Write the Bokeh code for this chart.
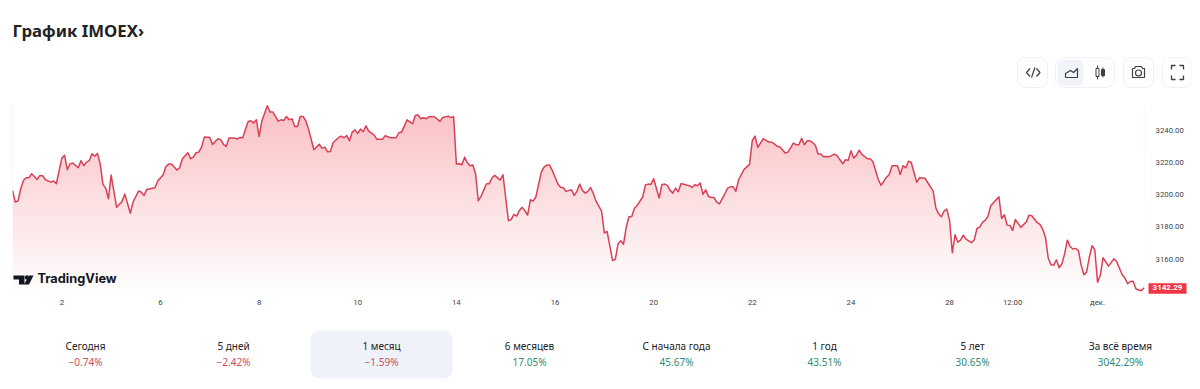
import numpy as np
from bokeh.plotting import figure
from bokeh.layouts import column
from bokeh.models import Range1d, LinearAxis, FixedTicker, Label
from bokeh.embed import file_html
from bokeh.resources import INLINE

TITLE = "График IMOEX›"
BRAND = "TradingView"
LAST_PRICE = 3142.29
PRICE_TICKS = [3160, 3180, 3200, 3220, 3240]
TIME_TICKS = [18, 54, 90, 126, 162, 198, 234, 270, 306, 342, 365, 396]
TIME_LABELS = ["2", "6", "8", "10", "14", "16", "20", "22", "24", "28", "12:00", "дек."]
PERIODS = ["Сегодня", "5 дней", "1 месяц", "6 месяцев", "С начала года", "1 год", "5 лет", "За всё время"]
CHANGES = ["−0.74%", "−2.42%", "−1.59%", "17.05%", "45.67%", "43.51%", "30.65%", "3042.29%"]
NEGATIVE = [True, True, True, False, False, False, False, False]

bars = [0,1,2,3,4,5,6,7,9,10,11,12,14,15,16,18,19,20,21,22,24,25,26,27,28,29,30,31,32,33,34,35,36,38,40,41,43,44,46,47,48,49,52,53,55,56,57,58,60,61,62,64,65,66,67,68,69,70,72,73,75,76,77,78,79,81,82,83,84,86,87,88,89,90,91,93,94,95,97,98,99,100,101,102,103,104,105,106,107,108,110,112,113,114,115,116,117,119,120,121,122,123,124,125,126,127,128,129,130,132,133,135,136,138,140,141,142,
        144,145,146,147,148,149,150,151,152,154,156,157,159,160,161,162,163,164,165,166,167,168,169,170,171,173,174,175,176,178,179,181,182,183,184,185,186,187,188,189,190,191,193,194,195,196,197,199,200,201,202,204,205,206,207,208,209,210,211,212,213,215,216,217,219,220,221,222,223,224,225,226,227,228,230,231,232,233,234,236,237,238,239,240,241,242,243,244,246,247,248,249,250,251,252,253,254,255,256,257,258,260,261,262,263,264,265,267,269,270,271,272,274,276,277,278,279,280,282,283,285,286,287,
        288,289,290,291,292,293,294,295,296,297,298,300,301,303,304,305,306,307,308,309,310,312,313,314,316,317,319,320,321,323,324,325,326,327,328,330,331,333,334,336,337,338,339,340,341,342,343,344,345,346,347,348,350,351,352,353,354,355,356,357,358,360,361,362,363,364,365,366,368,370,371,372,374,375,376,377,378,379,380,381,382,383,384,385,386,387,388,389,390,391,392,393,394,395,396,397,398,400,402,403,405,406,407,408,409,410,411,412,413]
closes = [3202.6,3195.4,3196.0,3203.6,3208.8,3210.4,3210.4,3212.9,3209.4,3211.9,3211.7,3209.2,3207.7,3208.4,3206.7,3222.6,3224.3,3215.4,3219.1,3219.5,3216.6,3221.0,3217.9,3220.1,3221.0,3225.3,3223.8,3225.5,3219.1,3206.3,3204.0,3197.4,3212.1,3192.1,3195.8,3200.3,3188.5,3195.4,3202.2,3201.5,3199.5,3203.2,3204.2,3208.4,3212.3,3217.4,3218.9,3218.9,3215.2,3216.6,3222.2,3225.9,3222.2,3223.2,3225.9,3226.3,3229.4,3235.6,3235.4,3231.1,3234.6,3234.0,3231.1,3229.8,3235.0,3235.0,3234.4,3235.4,3235.2,3245.3,3245.7,3244.3,3246.3,3236.0,3245.5,3255.0,3251.1,3251.1,3245.5,3246.3,3245.9,3248.4,3246.3,3247.0,3242.2,3242.2,3248.4,3248.4,3245.9,3240.8,3227.8,3231.1,3228.6,3229.4,3226.5,3226.7,3232.1,3235.4,3236.2,3235.2,3236.6,3233.3,3238.7,3240.1,3237.9,3240.6,3238.9,3242.6,3239.3,3236.8,3234.2,3234.2,3236.4,3235.2,3235.2,3238.3,3238.7,
          3246.3,3245.1,3243.9,3249.0,3249.4,3247.0,3247.6,3247.0,3248.2,3248.2,3245.3,3247.8,3248.6,3247.8,3248.2,3218.9,3219.1,3218.5,3223.2,3219.7,3217.9,3218.3,3212.9,3196.2,3198.9,3206.7,3206.7,3210.4,3211.9,3209.0,3212.3,3183.8,3184.6,3187.7,3186.7,3190.2,3192.1,3190.0,3187.3,3196.8,3196.0,3198.5,3213.9,3217.0,3218.3,3218.3,3215.0,3206.7,3204.6,3204.2,3202.0,3203.0,3199.5,3202.0,3206.5,3202.6,3200.9,3202.0,3204.4,3200.5,3195.8,3189.8,3176.2,3177.2,3159.2,3159.9,3169.5,3171.4,3169.3,3179.9,3186.3,3186.5,3191.6,3193.3,3198.5,3205.9,3206.5,3206.3,3209.8,3197.8,3206.1,3206.5,3205.7,3202.6,3200.9,3204.0,3201.8,3206.9,3205.9,3205.5,3204.4,3206.1,3205.5,3207.1,3200.1,3203.0,3198.9,3198.2,3198.2,3195.4,3194.3,3200.5,3204.0,3204.8,3204.8,3202.0,3209.2,3215.6,3218.7,3233.5,3236.2,3229.2,3234.6,3232.5,3232.5,3231.5,3230.0,3229.6,3225.7,3226.3,3231.9,3230.9,3230.9,
          3234.8,3230.9,3233.3,3233.3,3232.3,3230.6,3225.1,3225.1,3223.4,3223.6,3223.4,3225.1,3224.0,3219.1,3221.6,3221.2,3227.1,3222.6,3224.3,3227.5,3224.9,3222.2,3222.2,3220.5,3209.2,3205.7,3210.8,3212.5,3217.9,3217.9,3212.5,3217.9,3216.6,3220.7,3219.9,3207.7,3210.4,3210.2,3207.5,3202.2,3191.6,3188.1,3186.3,3189.8,3191.0,3184.0,3164.0,3175.1,3170.6,3171.8,3174.9,3172.4,3170.2,3172.0,3179.0,3179.9,3182.8,3184.0,3186.5,3192.9,3194.9,3198.7,3185.2,3187.5,3181.1,3180.9,3177.8,3184.6,3179.7,3183.0,3187.3,3186.9,3182.6,3181.5,3178.4,3173.5,3160.7,3156.6,3156.3,3159.6,3154.7,3157.2,3163.4,3171.8,3167.9,3166.3,3166.7,3165.4,3156.6,3150.4,3152.0,3161.3,3168.3,3165.8,3145.8,3149.9,3160.9,3155.7,3160.3,3158.4,3150.4,3148.3,3144.8,3146.2,3146.4,3141.7,3140.9,3140.5,3142.29]

RED = "#d93f55"
TEXT = "#222222"
UI_FONT = "Noto Sans"
W = 1184

def canvas(top, bottom, height):
    f = figure(width=W, height=height, x_range=Range1d(8, 8 + W), y_range=Range1d(bottom, top),
               output_backend="svg", toolbar_location=None, min_border=0,
               x_axis_type=None, y_axis_type=None, frame_align=False)
    f.grid.visible = False
    f.outline_line_color = None
    return f

# ---------- header ----------
head = canvas(8, 90, 82)
head.text([12], [30], text=[TITLE], text_font={"value": UI_FONT}, text_font_style="bold",
          text_font_size="16.8px", text_color="#222222", text_baseline="middle")

BORDER = "#eff1f5"
ICON = "#3a3f4a"
for l, r in [(1017, 1047), (1055, 1114), (1123, 1153), (1162, 1191.5)]:
    head.quad(left=l, right=r, top=57, bottom=87, fill_color="white", line_color=BORDER,
              line_width=1, border_radius=8)
head.quad(left=1057, right=1083, top=59, bottom=85, fill_color="#f1f3f9", line_color=None, border_radius=6)
# code icon
head.multi_line([[1029.5, 1026, 1029.5], [1036, 1039.5, 1036], [1034.5, 1031]],
                [[68, 72, 76], [68, 72, 76], [67, 77]], line_color=ICON, line_width=1.2)
# area icon
head.line([1065, 1065, 1070, 1073, 1077, 1077, 1065], [77, 73, 70, 72, 68, 77, 77], line_color=ICON, line_width=1.2)
# candle icon
head.line([1097, 1097], [65, 79], line_color=ICON, line_width=1)
head.line([1102.5, 1102.5], [67, 77], line_color=ICON, line_width=1)
head.quad(left=1095.5, right=1098.5, top=68, bottom=76, fill_color="white", line_color=ICON, line_width=1)
head.quad(left=1101, right=1104, top=69, bottom=75, fill_color=ICON, line_color=ICON, line_width=1)
# camera icon
head.line([1132, 1134, 1135, 1141, 1142, 1144, 1144, 1132, 1132],
          [68, 68, 66, 66, 68, 68, 77, 77, 68], line_color=ICON, line_width=1.2)
head.scatter([1138], [72.5], size=6, marker="circle", fill_color=None, line_color=ICON, line_width=1.2)
# fullscreen icon
head.multi_line([[1171, 1171, 1175], [1179, 1183, 1183], [1171, 1171, 1175], [1179, 1183, 1183]],
                [[69, 65, 65], [65, 65, 69], [75, 79, 79], [79, 79, 75]], line_color=ICON, line_width=1.3)

# ---------- chart ----------
PX_PER_BAR = 2.74
PX_PER_UNIT = 1.615
FRAME_L, FRAME_R, FRAME_T, FRAME_B = 12, 1187, 90, 294
def price_at(py): return 3240 - (py - 129.5) / PX_PER_UNIT
def bar_at(px): return (px - FRAME_L) / PX_PER_BAR
y_top, y_bot = price_at(FRAME_T), price_at(FRAME_B)

p = figure(width=W, height=230, x_range=Range1d(0, bar_at(FRAME_R)), y_range=Range1d(y_bot, y_top),
           output_backend="svg", toolbar_location=None, x_axis_type=None, y_axis_type=None,
           min_border_left=4, min_border_right=5, min_border_top=0, min_border_bottom=26, frame_align=False)
p.grid.visible = False
p.outline_line_color = None

N = 256
t = np.linspace(0, 1, N)[:, None]
grad = np.zeros((N, 1, 4), dtype=np.uint8)
grad[..., 0] = (255 + (250 - 255) * t)
grad[..., 1] = (255 + (192 - 255) * t)
grad[..., 2] = (255 + (196 - 255) * t)
grad[..., 3] = 255
grad_top = price_at(105)
grad_bot = price_at(292)
view = grad.view(dtype=np.uint32).reshape(N, 1)
p.image_rgba(image=[view], x=0, y=grad_bot, dw=max(bars), dh=grad_top - grad_bot)
p.varea(x=bars, y1=closes, y2=[y_top] * len(bars), fill_color="white")
p.line(bars, closes, line_color=RED, line_width=1.5, line_join="round")

xaxis = LinearAxis(ticker=FixedTicker(ticks=TIME_TICKS),
                   major_label_overrides={k: v for k, v in zip(TIME_TICKS, TIME_LABELS)})
yaxis = LinearAxis(ticker=FixedTicker(ticks=PRICE_TICKS),
                   major_label_overrides={v: f"{v:.2f}" for v in PRICE_TICKS})
for ax, standoff in ((xaxis, 3), (yaxis, -32)):
    ax.axis_line_color = None
    ax.major_tick_line_color = None
    ax.minor_tick_line_color = None
    ax.major_tick_out = 0
    ax.major_tick_in = 0
    ax.major_label_text_font = "Roboto"
    ax.major_label_text_font_size = "7.8px"
    ax.major_label_text_color = "#3c3f47"
    ax.major_label_standoff = standoff
p.add_layout(xaxis, "below")
p.add_layout(yaxis, "right")

# last-price tag, inside the widened frame
tag_l, tag_r = bar_at(1148), bar_at(1186)
p.quad(left=[tag_l], right=[tag_r], top=[price_at(282.7)], bottom=[price_at(293.3)],
       fill_color="#ef3645", line_color=None)
p.text([(tag_l + tag_r) / 2], [LAST_PRICE], text=[f"{LAST_PRICE:.2f}"], text_color="white",
       text_font={"value": "Roboto"}, text_font_size="8px", text_font_style="bold",
       text_align="center", text_baseline="middle")

# TradingView mark
p.patch([bar_at(v) for v in (13, 24, 24, 18.5, 18.5, 13)],
        [price_at(v) for v in (275, 275, 284, 284, 279, 279)], fill_color="#131722", line_color=None)
p.scatter([bar_at(26.5)], [price_at(277)], size=4.5, marker="circle", fill_color="#131722", line_color=None)
p.patch([bar_at(v) for v in (28.5, 33, 28.5, 23.5)],
        [price_at(v) for v in (275, 275, 284, 284)], fill_color="#131722", line_color=None)
p.add_layout(Label(x=bar_at(37), y=price_at(280), text=BRAND, y_offset=-5.5, text_color="#131722",
                   text_font="Inter", text_font_size="12.8px", text_font_style="bold"))

# ---------- period strip ----------
foot = canvas(320, 381, 61)
foot.quad(left=310, right=452, top=330, bottom=378, fill_color="#f0f2fa", line_color=None, border_radius=9)
centers = [85, 233, 381, 529, 676, 824, 972, 1120]
foot.text(centers, [345] * 8, text=PERIODS, text_font={"value": UI_FONT}, text_font_size="10px",
          text_color=TEXT, text_align="center", text_baseline="middle")
foot.text(centers, [361] * 8, text=CHANGES, text_font={"value": UI_FONT}, text_font_size="10px",
          text_color=["#cf4a5c" if n else "#2f8a75" for n in NEGATIVE],
          text_align="center", text_baseline="middle")

page = column(head, p, foot, spacing=0, margin=(8, 0, 0, 8))
open("out.html", "w").write(file_html(page, INLINE))
